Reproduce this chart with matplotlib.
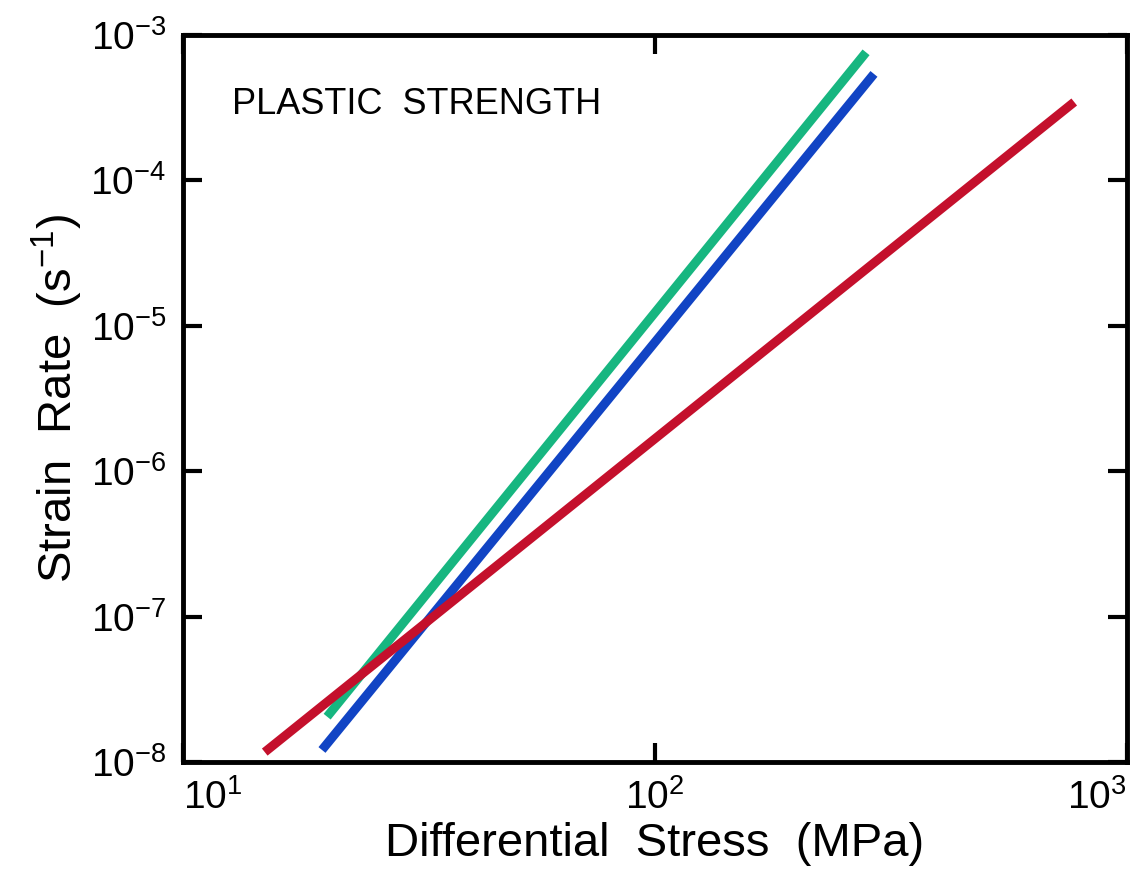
#!/usr/bin/env python3
"""Plastic strength: strain rate vs differential stress (log-log)."""
import matplotlib
matplotlib.use("Agg")
import matplotlib.pyplot as plt
from matplotlib.ticker import NullLocator

# endpoints (stress in MPa, strain rate in 1/s)
green_stress = [20.2, 280]
green_rate = [2.05e-8, 7.6e-4]
blue_stress = [19.7, 291]
blue_rate = [1.21e-8, 5.4e-4]
red_stress = [14.9, 773]
red_rate = [1.17e-8, 3.46e-4]

x_ticks = [10, 100, 1000]
y_ticks = [1e-8, 1e-7, 1e-6, 1e-5, 1e-4, 1e-3]

plt.rcParams['font.family'] = ['Liberation Sans', 'DejaVu Sans']
plt.rcParams['mathtext.fontset'] = 'custom'
plt.rcParams['mathtext.rm'] = 'Liberation Sans'

fig = plt.figure(figsize=(11.42, 8.72), dpi=100)
ax = fig.add_axes([183 / 1142, 1 - 762 / 872, (1127 - 183) / 1142, (762 - 35) / 872])

ax.plot(green_stress, green_rate, color='#17b680', lw=6.5, solid_capstyle='butt')
ax.plot(blue_stress, blue_rate, color='#1144c4', lw=6.5, solid_capstyle='butt')
ax.plot(red_stress, red_rate, color='#c4102c', lw=6.5, solid_capstyle='butt')

ax.set_xscale('log')
ax.set_yscale('log')
ax.set_xlim(10, 1000)
ax.set_ylim(1e-8, 1e-3)
ax.set_xticks(x_ticks)
ax.set_yticks(y_ticks)
ax.xaxis.set_minor_locator(NullLocator())
ax.yaxis.set_minor_locator(NullLocator())

for s in ax.spines.values():
    s.set_linewidth(3.5)
ax.tick_params(which='major', direction='in', length=14, width=3,
               top=True, right=True, labelsize=28, pad=12)

# keep the end labels inside the figure like the original
xt = ax.xaxis.get_major_ticks()
xt[0].label1.set_horizontalalignment('left')
xt[0].label1.set_x(0)
xt[-1].label1.set_horizontalalignment('right')

ax.text(0.052, 0.905, 'PLASTIC  STRENGTH', transform=ax.transAxes,
        fontsize=26, ha='left', va='center')

ax.set_xlabel('Differential  Stress  (MPa)', fontsize=34, labelpad=4)
ax.set_ylabel('Strain  Rate  (s$^{-1}$)', fontsize=34, labelpad=4)

fig.savefig('out.png', dpi=100)
